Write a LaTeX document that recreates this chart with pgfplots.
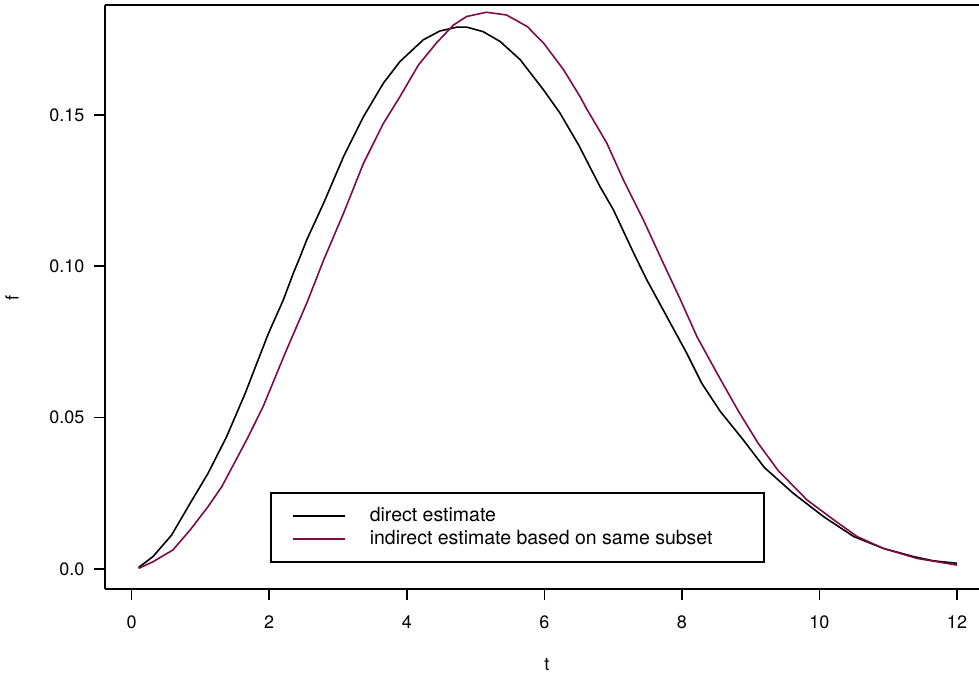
\documentclass[border=0pt]{standalone}
\usepackage{pgfplots}
\pgfplotsset{compat=1.18}
\usepackage{fontspec}
\setmainfont{TeX Gyre Heros}
\definecolor{indir}{RGB}{128,10,72}
\pgfplotstableread{
t f
0.10 0.0005
0.31 0.0041
0.58 0.0112
0.85 0.0217
1.11 0.0316
1.38 0.0437
1.65 0.0580
1.82 0.0680
1.99 0.0779
2.205 0.0889
2.35 0.0977
2.45 0.1032
2.545 0.1087
2.79 0.1208
3.08 0.1362
3.37 0.1494
3.66 0.1605
3.90 0.1676
4.24 0.1748
4.48 0.1777
4.73 0.1790
4.87 0.1790
5.11 0.1775
5.36 0.1742
5.65 0.1682
5.99 0.1582
6.23 0.1505
6.50 0.1400
6.71 0.1307
6.81 0.1263
7.005 0.1186
7.30 0.1043
7.49 0.0955
7.78 0.0834
8.07 0.0713
8.29 0.0613
8.56 0.0520
8.88 0.0430
9.20 0.0335
9.62 0.0250
10.06 0.0173
10.50 0.0107
10.93 0.0068
11.37 0.0041
11.66 0.0027
12.00 0.0019
}\direct
\pgfplotstableread{
t f
0.10 0.0002
0.31 0.0024
0.60 0.0063
0.85 0.0129
1.11 0.0206
1.31 0.0272
1.67 0.0426
1.91 0.0536
2.25 0.0723
2.545 0.0878
2.79 0.1020
3.08 0.1175
3.37 0.1340
3.66 0.1472
3.90 0.1560
4.17 0.1665
4.44 0.1740
4.68 0.1797
4.87 0.1825
5.16 0.1839
5.45 0.1830
5.75 0.1792
5.99 0.1737
6.28 0.1649
6.52 0.1560
6.62 0.1518
6.81 0.1445
6.91 0.1406
7.15 0.1285
7.44 0.1153
7.73 0.1010
7.98 0.0889
8.22 0.0767
8.51 0.0647
8.82 0.0522
9.11 0.0415
9.40 0.0325
9.82 0.0228
10.21 0.0162
10.55 0.0107
10.93 0.0068
11.42 0.0035
12.00 0.0013
}\indirect
\begin{document}
\begin{tikzpicture}
\begin{axis}[
  name=ax,
  scale only axis,
  width=874pt, height=584.3pt,
  xmin=-0.388, xmax=12.32,
  ymin=-0.0067, ymax=0.1863,
  axis x line*=box, axis y line*=left,
  axis line style={line width=1.8pt},
  every tick/.style={black, line width=1.6pt},
  tick align=outside,
  major tick length=11pt,
  xtick={0,2,4,6,8,10,12},
  ytick={0,0.05,0.10,0.15},
  yticklabels={0.0,0.05,0.10,0.15},
  xtick pos=bottom, ytick pos=left,
  /pgf/number format/assume math mode=true,
  tick label style={font=\fontsize{18}{21}\selectfont},
  xticklabel style={yshift=-12pt},
  yticklabel style={xshift=-6pt},
  xlabel={t}, ylabel={f},
  label style={font=\fontsize{18}{21}\selectfont},
  x label style={at={(axis description cs:0.5057,-0.1296)}, anchor=center},
  y label style={at={(axis description cs:-0.1064,0.4985)}, anchor=center},
  legend style={at={(rel axis cs:0.189,0.045)}, anchor=south west,
    draw=black, line width=1.6pt, inner xsep=21pt, inner ysep=12pt,
    font=\fontsize{19.5}{22}\selectfont, row sep=1pt, column sep=0pt,
    nodes={inner sep=1pt, text height=15pt, text depth=5pt}},
  legend cell align=left,
  legend image code/.code={\draw[#1, line width=1.6pt] (0pt,0pt) -- (52pt,0pt); \path[draw=none] (0pt,0pt) -- (76pt,0pt);},
]
\addplot[black, line width=1.6pt] table[x=t,y=f] {\direct};
\addlegendentry{direct estimate}
\addplot[indir, line width=1.6pt] table[x=t,y=f] {\indirect};
\addlegendentry{\makebox[372pt][l]{indirect estimate based on same subset}}
\end{axis}
\pgfresetboundingbox
\useasboundingbox ([xshift=-105pt,yshift=-85.7pt]ax.south west) rectangle ([yshift=5pt]ax.north east);
\end{tikzpicture}
\end{document}
